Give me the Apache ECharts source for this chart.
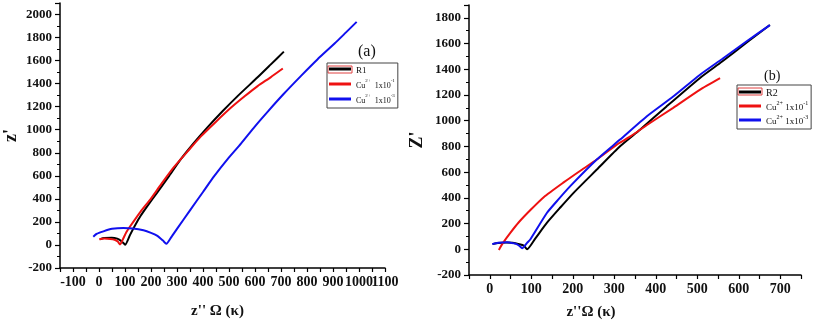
<!DOCTYPE html>
<html>
<head>
<meta charset="utf-8">
<script src="https://cdn.jsdelivr.net/npm/echarts@6/dist/echarts.min.js"></script>
<style>
html, body { margin: 0; background: #fff; }
#chart { width: 816px; height: 325px; }
</style>
</head>
<body>
<div id="chart"></div>
<script>
// panel (a): [z'', z'] pairs
var r1 = [[4,50],[20,60],[49,63],[70,55],[85,35],[95,15],[101,2],[120,90],[140,175],[159,249],[190,350],[223,452],[270,600],[314,742],[365,885],[417,1020],[475,1160],[533,1292],[610,1455],[660,1565],[711,1678]];
var cuA1 = [[1,50],[20,55],[43,52],[60,45],[72,30],[81,5],[90,40],[105,110],[120,162],[160,290],[197,394],[240,530],[288,675],[340,810],[391,940],[450,1070],[507,1190],[560,1290],[610,1379],[660,1455],[707,1531]];
var cuA3 = [[-22,72],[-10,95],[17,118],[50,140],[94,148],[130,143],[171,127],[200,105],[223,81],[245,40],[259,10],[280,75],[300,140],[352,307],[400,460],[443,597],[500,760],[546,880],[600,1030],[650,1160],[710,1310],[778,1470],[840,1610],[907,1750],[950,1845],[991,1936]];

// panel (b)
var r2 = [[7,40],[20,48],[39,53],[55,50],[71,39],[82,28],[90,0],[110,85],[138,207],[170,325],[202,439],[230,530],[258,620],[314,801],[362,930],[426,1111],[506,1331],[560,1460],[620,1610],[675,1744]];
var cuB1 = [[22,-5],[30,40],[50,129],[70,210],[98,305],[130,405],[178,520],[220,615],[258,698],[306,814],[340,880],[378,965],[442,1100],[506,1240],[555,1331]];
var cuB3 = [[6,40],[20,50],[42,55],[60,45],[66,39],[72,25],[78,8],[90,50],[98,78],[138,284],[166,390],[194,491],[258,698],[314,853],[378,1033],[442,1188],[506,1356],[560,1480],[620,1620],[675,1744]];

var namesA = ['R1', 'Cu2+ 1x10-1', 'Cu2+ 1x10-3'];
var namesB = ['R2', 'Cu2+ 1x10-1', 'Cu2+ 1x10-3'];

var serif = 'Liberation Serif';
var black = '#000', red = '#ee1111', blue = '#1010ee';

function fmtA(name) {
    if (name.indexOf('Cu') !== 0) return '{t|' + name + '}';
    return '{c|Cu}{s|2+}{c|  1x10}{s|' + name.split(' ')[1].slice(4) + '}';
}
function fmtB(name) {
    if (name.indexOf('Cu') !== 0) return '{t|' + name + '}';
    return '{c|Cu}{s|2+}{c| 1x10}{s|' + name.split(' ')[1].slice(4) + '}';
}

function xAxisOf(idx, min, max, nameGap, shift) {
    return {
        type: 'value', gridIndex: idx, min: min, max: max, interval: 50,
        name: idx === 0 ? "z'' \u03A9 (\u03BA)" : "z''\u03A9 (\u03BA)",
        nameLocation: 'middle', nameGap: nameGap,
        nameTextStyle: { fontFamily: serif, fontWeight: 'bold', fontSize: 15, color: '#111', padding: [0, shift, 0, 0] },
        axisLine: { onZero: false, lineStyle: { color: '#000', width: 1.5 } },
        axisTick: { length: 4, lineStyle: { color: '#000', width: 1.2 } },
        axisLabel: {
            fontFamily: serif, fontWeight: 'bold', fontSize: 14, color: '#111', margin: 7,
            formatter: function (v) { return v % 100 === 0 ? String(v) : ''; }
        },
        splitLine: { show: false }
    };
}

function yAxisOf(idx, max, name, nameGap) {
    return {
        type: 'value', gridIndex: idx, min: -200, max: max, interval: 200,
        name: name, nameLocation: 'middle', nameGap: nameGap,
        nameTextStyle: { fontFamily: serif, fontWeight: 'bold', fontSize: 18, color: '#111' },
        axisLine: { show: true, onZero: false, lineStyle: { color: '#000', width: 1.5 } },
        axisTick: { show: true, length: 5, lineStyle: { color: '#000', width: 1.2 } },
        minorTick: { show: true, splitNumber: 2, length: 3, lineStyle: { color: '#000', width: 1 } },
        axisLabel: {
            fontFamily: serif, fontWeight: 'bold', fontSize: 13, color: '#111', margin: 8,
            showMaxLabel: false,
            formatter: function (v) { return v % 200 === 0 ? String(v) : ''; }
        },
        splitLine: { show: false }
    };
}

function line(name, data, color, idx) {
    return {
        name: name, type: 'line', data: data, xAxisIndex: idx, yAxisIndex: idx,
        showSymbol: false, smooth: 0.2, color: color,
        lineStyle: { color: color, width: 2 }
    };
}

function legendOf(names, left, top, size, gap, fmt) {
    return {
        data: names, orient: 'vertical', left: left, top: top,
        icon: 'rect', itemWidth: 22, itemHeight: 3, itemGap: gap,
        borderColor: '#444', borderWidth: 1, padding: [3, 3, 3, 2],
        formatter: fmt,
        textStyle: {
            color: '#111',
            rich: {
                t: { fontFamily: serif, fontSize: size + 1, lineHeight: 12, verticalAlign: 'bottom', color: '#111' },
                c: { fontFamily: serif, fontSize: size, lineHeight: 12, verticalAlign: 'bottom', color: '#111' },
                s: { fontFamily: serif, fontSize: size - 3, lineHeight: 12, verticalAlign: 'top', color: '#111' }
            }
        }
    };
}

var chart = echarts.init(document.getElementById('chart'), null, { renderer: 'canvas' });
chart.setOption({
    backgroundColor: '#fff',
    animation: false,
    title: [
        { text: '(a)', left: 358, top: 44, padding: 0, textStyle: { fontFamily: serif, fontWeight: 'normal', fontSize: 16, color: '#111' } },
        { text: '(b)', left: 764, top: 69, padding: 0, textStyle: { fontFamily: serif, fontWeight: 'normal', fontSize: 14, color: '#111' } }
    ],
    legend: [
        legendOf(namesA, 327, 63, 8, 3, fmtA),
        legendOf(namesB, 737, 85, 9, 2, fmtB)
    ],
    grid: [
        { left: 60, top: 3, width: 325, height: 265 },
        { left: 469, top: 5, width: 332, height: 271 }
    ],
    xAxis: [xAxisOf(0, -150, 1100, 36, 10), xAxisOf(1, -50, 750, 30, 88)],
    yAxis: [yAxisOf(0, 2100, "z'", 40), yAxisOf(1, 1900, "Z'", 43)],
    series: [
        line(namesA[0], r1, black, 0),
        line(namesA[1], cuA1, red, 0),
        line(namesA[2], cuA3, blue, 0),
        line(namesB[0], r2, black, 1),
        line(namesB[1], cuB1, red, 1),
        line(namesB[2], cuB3, blue, 1)
    ],
    graphic: [
        { type: 'rect', shape: { x: 328, y: 66, width: 24, height: 7 }, style: { fill: 'none', stroke: '#e04040', lineWidth: 1 }, silent: true },
        { type: 'rect', shape: { x: 738, y: 88, width: 24, height: 7 }, style: { fill: 'none', stroke: '#e04040', lineWidth: 1 }, silent: true }
    ]
});
</script>
</body>
</html>
